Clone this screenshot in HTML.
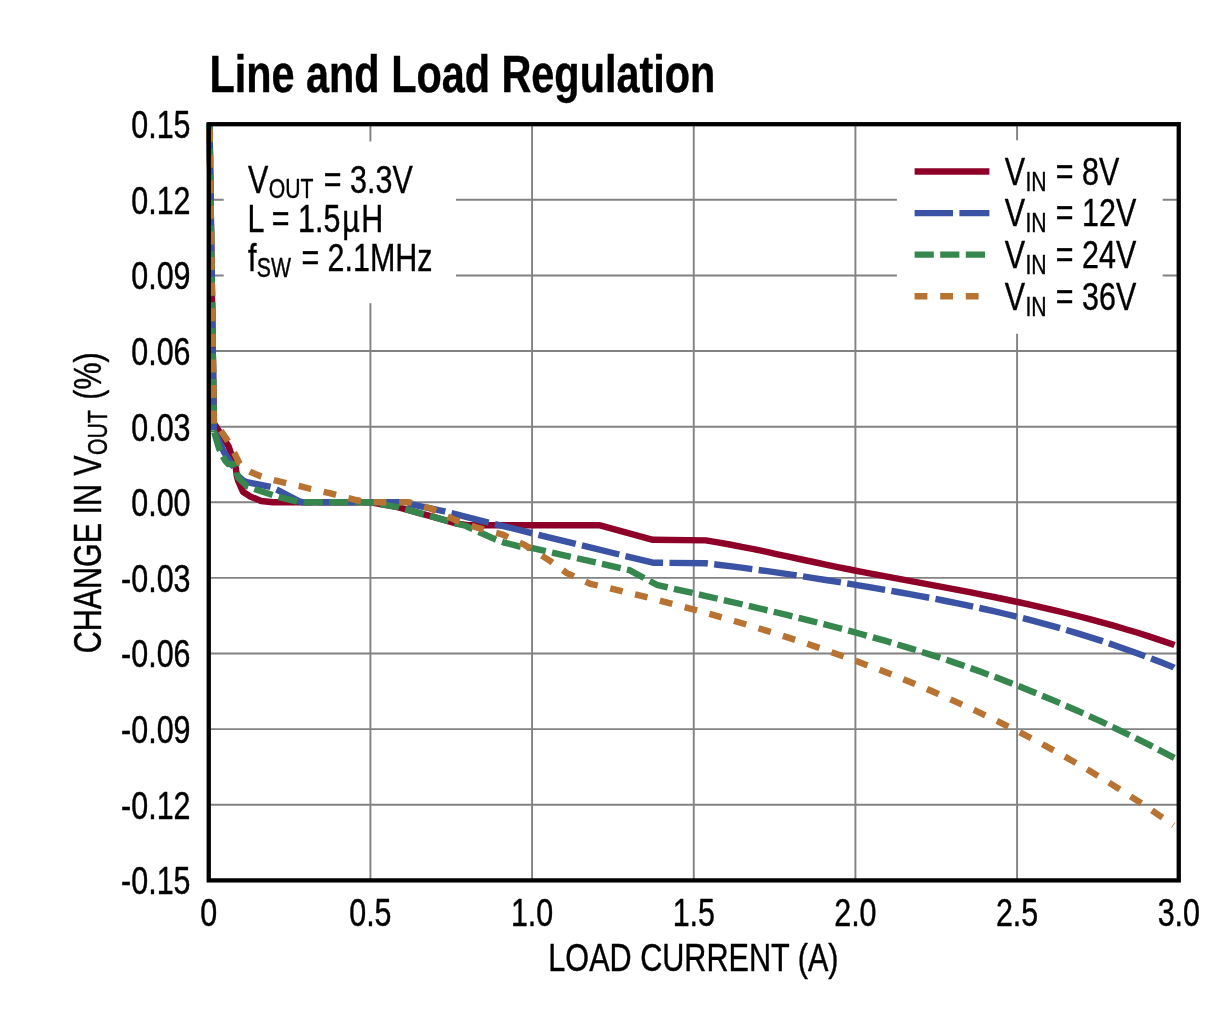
<!DOCTYPE html>
<html lang="en">
<head>
<meta charset="utf-8">
<title>Line and Load Regulation</title>
<style>
html,body{margin:0;padding:0;background:#fff;}
body{width:1228px;height:1036px;overflow:hidden;}
svg{display:block;}
text{font-family:"Liberation Sans", sans-serif;fill:#000;stroke:#000;stroke-width:0.4px;vector-effect:non-scaling-stroke;stroke-linejoin:round;}

.curve{fill:none;stroke-width:6.4;stroke-linejoin:round;stroke-linecap:butt;}
.grid line{stroke:#828282;stroke-width:1.9;}
</style>
</head>
<body>
<svg width="1228" height="1036" viewBox="0 0 1228 1036">
<rect x="0" y="0" width="1228" height="1036" fill="#ffffff"/>

<g class="grid">
<line x1="370.42" y1="124.2" x2="370.42" y2="880.4"/>
<line x1="532.08" y1="124.2" x2="532.08" y2="880.4"/>
<line x1="693.75" y1="124.2" x2="693.75" y2="880.4"/>
<line x1="855.42" y1="124.2" x2="855.42" y2="880.4"/>
<line x1="1017.08" y1="124.2" x2="1017.08" y2="880.4"/>
<line x1="208.75" y1="199.82" x2="1178.75" y2="199.82"/>
<line x1="208.75" y1="275.44" x2="1178.75" y2="275.44"/>
<line x1="208.75" y1="351.06" x2="1178.75" y2="351.06"/>
<line x1="208.75" y1="426.68" x2="1178.75" y2="426.68"/>
<line x1="208.75" y1="502.30" x2="1178.75" y2="502.30"/>
<line x1="208.75" y1="577.92" x2="1178.75" y2="577.92"/>
<line x1="208.75" y1="653.54" x2="1178.75" y2="653.54"/>
<line x1="208.75" y1="729.16" x2="1178.75" y2="729.16"/>
<line x1="208.75" y1="804.78" x2="1178.75" y2="804.78"/>
</g>
<rect x="223.7" y="141.5" width="232.3" height="161.7" fill="#fff"/>
<rect x="896.9" y="140.3" width="265.8" height="193.4" fill="#fff"/>
<path class="curve" stroke="#8E0028" d="M209.5,123.2 L213.8,423.0 L228.7,446.5 L235.8,468.0 L236.8,476.0 L238.1,480.8 L242.9,491.8 L250.2,496.5 L261.2,501.0 L272.9,502.3 L370.4,502.3 L397.7,507.1 L436.8,517.9 L456.0,523.5 L468.0,525.2 L599.1,525.2 L652.9,539.8 L705.7,540.4 L717.7,542.3 L729.7,544.5 L741.7,546.8 L753.7,549.2 L765.7,551.7 L777.7,554.3 L789.7,556.9 L801.7,559.5 L813.7,562.0 L825.7,564.6 L837.7,567.1 L849.7,569.5 L861.7,571.8 L873.7,574.1 L885.7,576.4 L897.7,578.7 L909.7,580.9 L921.7,583.1 L933.7,585.4 L945.7,587.6 L957.7,589.9 L969.7,592.2 L981.7,594.6 L993.7,597.0 L1005.7,599.5 L1017.7,602.0 L1029.7,604.6 L1041.7,607.3 L1053.7,610.1 L1065.7,613.0 L1077.7,616.0 L1089.7,619.1 L1101.7,622.3 L1113.7,625.7 L1125.7,629.2 L1137.7,632.8 L1149.7,636.6 L1161.7,640.6 L1173.7,644.7 L1174.5,645.0"/>
<path class="curve" stroke="#3A53A4" stroke-dasharray="38.4 6.4" d="M209.5,123.4 L213.9,430.0"/>
<path class="curve" stroke="#3A53A4" stroke-dasharray="38.4 6.4" stroke-dashoffset="40.8" d="M213.9,430.0 L216.4,435.4 L224.1,452.3 L234.1,467.7 L238.0,476.0 L243.0,480.5 L246.9,482.2 L270.9,487.0 L277.3,489.9 L299.3,501.3 L303.0,502.3 L401.6,502.3 L444.6,511.4 L487.6,522.4 L520.0,530.1 L530.6,532.9 L652.9,562.7 L705.7,563.3 L717.7,564.7 L729.7,566.1 L741.7,567.7 L753.7,569.3 L765.7,570.9 L777.7,572.6 L789.7,574.4 L801.7,576.2 L813.7,578.1 L825.7,580.0 L837.7,581.9 L849.7,583.9 L861.7,585.9 L873.7,587.9 L885.7,589.9 L897.7,592.0 L909.7,594.2 L921.7,596.4 L933.7,598.6 L945.7,601.0 L957.7,603.4 L969.7,605.9 L981.7,608.5 L993.7,611.2 L1005.7,614.0 L1017.7,616.9 L1029.7,619.9 L1041.7,623.1 L1053.7,626.4 L1065.7,629.8 L1077.7,633.4 L1089.7,637.1 L1101.7,640.9 L1113.7,645.0 L1125.7,649.2 L1137.7,653.5 L1149.7,658.0 L1161.7,662.6 L1173.7,667.4 L1174.0,667.6"/>
<path class="curve" stroke="#36874D" stroke-dasharray="19.2 6.4" d="M209.5,123.1 L214.0,432.3"/>
<path class="curve" stroke="#36874D" stroke-dasharray="19.2 6.4" stroke-dashoffset="24.8" d="M214.0,431.5 L219.0,448.4 L221.9,454.7 L225.6,461.1 L228.3,464.0 L236.4,464.4 L236.8,472.7 L238.5,478.2 L246.9,486.2 L255.2,489.2 L273.1,495.1 L279.1,497.1 L297.8,501.8 L301.0,502.3 L370.4,502.3 L397.7,507.1 L436.8,517.9 L466.0,526.0 L480.0,532.5 L495.4,539.4 L503.2,542.3 L520.0,546.6 L532.6,548.2 L629.4,570.1 L656.8,584.8 L668.8,587.6 L680.8,590.3 L692.8,593.0 L704.8,595.8 L716.8,598.5 L728.8,601.3 L740.8,604.0 L752.8,606.8 L764.8,609.7 L776.8,612.5 L788.8,615.4 L800.8,618.4 L812.8,621.4 L824.8,624.4 L836.8,627.5 L848.8,630.7 L860.8,634.0 L872.8,637.3 L884.8,640.7 L896.8,644.3 L908.8,647.9 L920.8,651.6 L932.8,655.4 L944.8,659.3 L956.8,663.4 L968.8,667.5 L980.8,671.8 L992.8,676.2 L1004.8,680.7 L1016.8,685.4 L1028.8,690.2 L1040.8,695.1 L1052.8,700.1 L1064.8,705.3 L1076.8,710.5 L1088.8,715.9 L1100.8,721.4 L1112.8,727.1 L1124.8,732.8 L1136.8,738.7 L1148.8,744.7 L1160.8,750.9 L1172.8,757.1 L1174.3,757.9"/>
<path class="curve" stroke="#B87333" stroke-dasharray="12.8 12.8" d="M209.6,129.1 L213.8,423.5"/>
<path class="curve" stroke="#B87333" stroke-dasharray="12.8 12.8" stroke-dashoffset="13.0" d="M213.8,420.3 L220.9,430.8 L227.9,441.1 L234.3,452.8 L239.5,463.5 L242.5,468.0 L250.0,471.8 L261.3,476.5 L273.8,480.2 L286.1,483.1 L298.9,485.9 L311.0,489.0 L329.7,493.1 L354.3,499.7 L366.0,502.0 L374.0,502.3 L409.4,502.3 L430.9,508.5 L453.4,519.2 L477.3,527.7 L502.3,534.5 L525.1,545.2 L549.3,560.4 L566.9,573.1 L590.4,583.8 L602.4,586.6 L614.4,589.4 L626.4,592.3 L638.4,595.2 L650.4,598.2 L662.4,601.3 L674.4,604.4 L686.4,607.6 L698.4,610.8 L710.4,614.2 L722.4,617.6 L734.4,621.0 L746.4,624.6 L758.4,628.2 L770.4,631.9 L782.4,635.7 L794.4,639.6 L806.4,643.5 L818.4,647.6 L830.4,651.8 L842.4,656.0 L854.4,660.4 L866.4,664.9 L878.4,669.4 L890.4,674.1 L902.4,678.9 L914.4,683.8 L926.4,688.8 L938.4,694.0 L950.4,699.3 L962.4,704.7 L974.4,710.2 L986.4,715.8 L998.4,721.6 L1010.4,727.6 L1022.4,733.7 L1034.4,740.0 L1046.4,746.4 L1058.4,753.0 L1070.4,759.7 L1082.4,766.6 L1094.4,773.7 L1106.4,781.0 L1118.4,788.5 L1130.4,796.2 L1142.4,804.0 L1154.4,812.1 L1166.4,820.3 L1173.5,825.3"/>
<rect x="208.75" y="124.2" width="970.0" height="756.20" fill="none" stroke="#000" stroke-width="4.3"/>
<line x1="914.6" y1="171.5" x2="989.4" y2="171.5" stroke="#8E0028" stroke-width="6.4"/>
<line x1="914.6" y1="213.1" x2="989.4" y2="213.1" stroke="#3A53A4" stroke-width="6.4" stroke-dasharray="38.4 6.4"/>
<line x1="914.6" y1="254.6" x2="989.4" y2="254.6" stroke="#36874D" stroke-width="6.4" stroke-dasharray="19.2 6.4"/>
<line x1="914.6" y1="296.3" x2="989.4" y2="296.3" stroke="#B87333" stroke-width="6.4" stroke-dasharray="12.8 12.8"/>
<text transform="translate(209.5,92.4) scale(0.796,1)" text-anchor="start" font-size="52" font-weight="bold">Line and Load Regulation</text>
<text transform="translate(190.5,138.0) scale(0.785,1)" text-anchor="end" font-size="38.8" font-weight="normal">0.15</text>
<text transform="translate(190.5,213.6) scale(0.785,1)" text-anchor="end" font-size="38.8" font-weight="normal">0.12</text>
<text transform="translate(190.5,289.2) scale(0.785,1)" text-anchor="end" font-size="38.8" font-weight="normal">0.09</text>
<text transform="translate(190.5,364.9) scale(0.785,1)" text-anchor="end" font-size="38.8" font-weight="normal">0.06</text>
<text transform="translate(190.5,440.5) scale(0.785,1)" text-anchor="end" font-size="38.8" font-weight="normal">0.03</text>
<text transform="translate(190.5,516.1) scale(0.785,1)" text-anchor="end" font-size="38.8" font-weight="normal">0.00</text>
<text transform="translate(190.5,591.7) scale(0.785,1)" text-anchor="end" font-size="38.8" font-weight="normal">-0.03</text>
<text transform="translate(190.5,667.3) scale(0.785,1)" text-anchor="end" font-size="38.8" font-weight="normal">-0.06</text>
<text transform="translate(190.5,743.0) scale(0.785,1)" text-anchor="end" font-size="38.8" font-weight="normal">-0.09</text>
<text transform="translate(190.5,818.6) scale(0.785,1)" text-anchor="end" font-size="38.8" font-weight="normal">-0.12</text>
<text transform="translate(190.5,894.2) scale(0.785,1)" text-anchor="end" font-size="38.8" font-weight="normal">-0.15</text>
<text transform="translate(208.8,926.2) scale(0.785,1)" text-anchor="middle" font-size="38.8" font-weight="normal">0</text>
<text transform="translate(370.4,926.2) scale(0.785,1)" text-anchor="middle" font-size="38.8" font-weight="normal">0.5</text>
<text transform="translate(532.1,926.2) scale(0.785,1)" text-anchor="middle" font-size="38.8" font-weight="normal">1.0</text>
<text transform="translate(693.8,926.2) scale(0.785,1)" text-anchor="middle" font-size="38.8" font-weight="normal">1.5</text>
<text transform="translate(855.4,926.2) scale(0.785,1)" text-anchor="middle" font-size="38.8" font-weight="normal">2.0</text>
<text transform="translate(1017.1,926.2) scale(0.785,1)" text-anchor="middle" font-size="38.8" font-weight="normal">2.5</text>
<text transform="translate(1178.8,926.2) scale(0.785,1)" text-anchor="middle" font-size="38.8" font-weight="normal">3.0</text>
<text transform="translate(693.4,971.3) scale(0.789,1)" text-anchor="middle" font-size="38.8" font-weight="normal">LOAD CURRENT (A)</text>
<text transform="translate(101.4,502.8) rotate(-90) scale(0.785,1)" text-anchor="middle" font-size="38.8" font-weight="normal">CHANGE IN V<tspan font-size="27" dy="5.8" dx="0.6">OUT</tspan><tspan dy="-5.8" dx="2.5"> (%)</tspan></text>
<text transform="translate(247.9,192.6) scale(0.785,1)" text-anchor="start" font-size="38.8" font-weight="normal">V<tspan font-size="27" dy="5.8" dx="0.6">OUT</tspan><tspan dy="-5.8" dx="2.5"> = 3.3V</tspan></text>
<text transform="translate(247.5,232.3) scale(0.785,1)" text-anchor="start" font-size="38.8" font-weight="normal">L = 1.5<tspan dx="2.5" letter-spacing="2">µH</tspan></text>
<text transform="translate(247.9,271.2) scale(0.785,1)" text-anchor="start" font-size="38.8" font-weight="normal">f<tspan font-size="27" dy="5.8" dx="0.6">SW</tspan><tspan dy="-5.8" dx="2.5"> = 2.1MHz</tspan></text>
<text transform="translate(1004.7,184.7) scale(0.785,1)" text-anchor="start" font-size="38.8" font-weight="normal">V<tspan font-size="27" dy="5.8" dx="0.6">IN</tspan><tspan dy="-5.8" dx="0.9"> = 8V</tspan></text>
<text transform="translate(1004.7,226.3) scale(0.785,1)" text-anchor="start" font-size="38.8" font-weight="normal">V<tspan font-size="27" dy="5.8" dx="0.6">IN</tspan><tspan dy="-5.8" dx="0.9"> = 12V</tspan></text>
<text transform="translate(1004.7,268.0) scale(0.785,1)" text-anchor="start" font-size="38.8" font-weight="normal">V<tspan font-size="27" dy="5.8" dx="0.6">IN</tspan><tspan dy="-5.8" dx="0.9"> = 24V</tspan></text>
<text transform="translate(1004.7,309.7) scale(0.785,1)" text-anchor="start" font-size="38.8" font-weight="normal">V<tspan font-size="27" dy="5.8" dx="0.6">IN</tspan><tspan dy="-5.8" dx="0.9"> = 36V</tspan></text>
</svg>
</body>
</html>
